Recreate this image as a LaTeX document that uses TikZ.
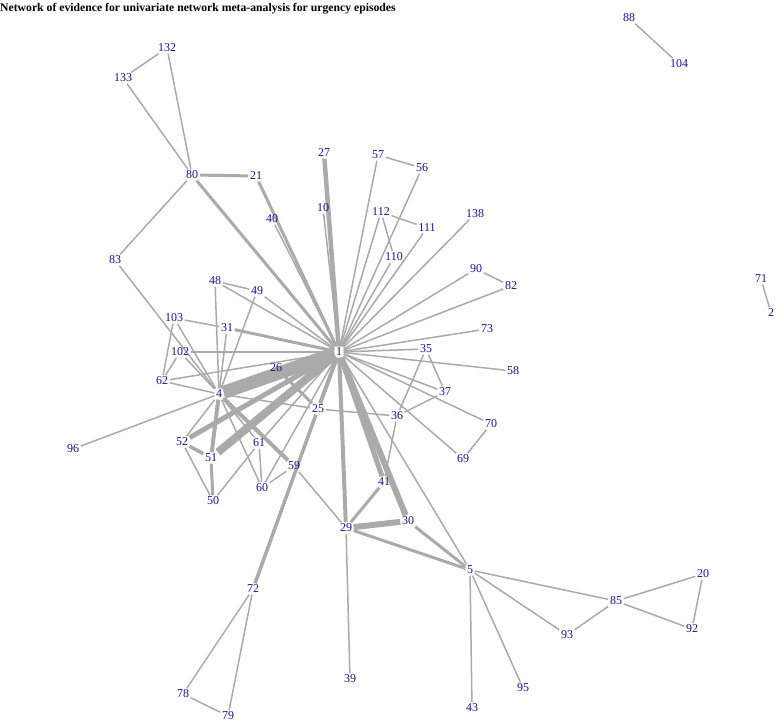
\documentclass[tikz,border=0pt]{standalone}
\usepackage{fontspec}
\setmainfont{Liberation Serif}
\usetikzlibrary{backgrounds}
\definecolor{lbl}{RGB}{22,22,130}
\definecolor{edg}{RGB}{170,170,170}
\tikzset{
  v/.style={text=lbl,inner sep=1.5pt,font=\fontsize{12}{13}\selectfont},
  e/.style={draw=edg,line width=1.5pt},
}
\begin{document}
\begin{tikzpicture}[x=1pt,y=-1pt]
\useasboundingbox (0,0) rectangle (777,723);
\node[anchor=west,inner sep=0pt,font=\bfseries\fontsize{11.7}{13}\selectfont] (title) at (0,9) {Network of evidence for univariate network meta-analysis for urgency episodes};
\foreach \n/\x/\y in {1/339/352,4/219/394,5/470/570,2/771/313,71/761/279,88/629/18,104/679/64,
132/167/48,133/123/78,80/192/175,21/256/176,27/324/153,10/323/208,40/272/219,57/378/155,56/422/168,
112/381/212,111/427/228,110/394/257,138/475/214,90/476/269,82/511/286,73/487/329,35/426/349,
58/513/371,37/445/392,36/397/416,70/491/424,69/463/459,83/115/260,48/215/281,49/257/291,
103/174/318,31/227/328,102/180/352,62/162/381,26/276/368,25/318/409,96/73/449,52/182/442,
51/211/458,61/259/443,59/294/466,60/262/488,50/213/501,41/384/482,29/346/528,30/408/521,
72/253/589,78/183/694,79/228/716,39/350/679,43/472/708,95/523/688,93/567/635,85/616/601,
20/703/574,92/692/629}
  \node[v] (n\n) at (\x,\y) {\n};
\begin{scope}[on background layer]
\foreach \a/\b in {88/104,71/2,132/133,132/80,133/80,80/83,40/1,10/1,57/1,57/56,56/1,112/1,
112/111,112/110,111/1,110/1,138/1,90/1,90/82,82/1,73/1,35/1,58/1,37/1,35/37,35/36,36/37,70/1,
69/1,69/70,36/41,1/5,25/36,29/39,5/43,5/95,5/93,5/85,85/93,85/20,85/92,20/92,72/78,72/79,78/79,
48/1,49/1,48/49,48/4,49/4,31/4,103/31,103/62,103/4,102/62,102/4,102/1,83/4,62/4,62/1,96/4,
4/52,4/61,4/60,52/50,61/60,60/59,50/61,61/1,60/1,4/25,59/29}
  \draw[e] (n\a) -- (n\b);
\foreach \a/\b/\w in {80/21/3,80/1/3,21/1/3,27/1/4.5,31/1/3,1/4/13,1/51/8,1/52/5,4/51/4,
52/51/3.5,51/50/3,4/59/4,26/25/3,72/25/3.5,25/1/4,1/29/4,1/41/5,1/30/6,29/30/6,41/29/3,
29/5/3,30/5/3}
  \draw[e,line width=\w pt] (n\a) -- (n\b);
\end{scope}
\end{tikzpicture}
\end{document}
